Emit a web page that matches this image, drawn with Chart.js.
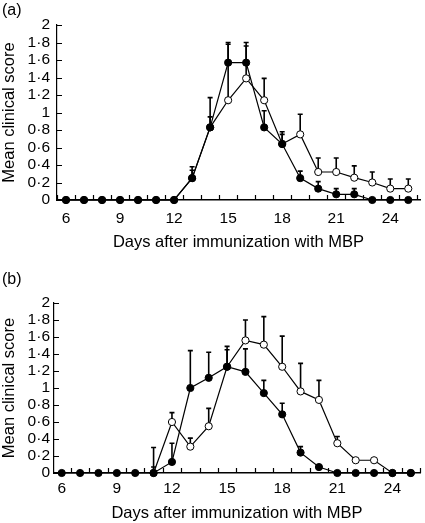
<!DOCTYPE html>
<html lang="en">
<head>
<meta charset="UTF-8">
<title>Mean clinical score after immunization with MBP</title>
<script src="https://cdn.jsdelivr.net/npm/chart.js"></script>
<style>
  body { margin: 0; background: #fff; width: 425px; height: 523px; position: relative; overflow: hidden;
         font-family: 'Liberation Sans', Arial, Helvetica, sans-serif; }
  .panel { position: absolute; left: 0; width: 425px; }
  .tag { position: absolute; left: 2px; font-size: 16px; color: #000; z-index: 2; }
</style>
</head>
<body>
<div class="panel" style="top:0;height:260px"><canvas id="chartA" width="425" height="260"></canvas></div>
<div class="panel" style="top:260px;height:263px"><canvas id="chartB" width="425" height="263"></canvas></div>
<div class="tag" style="top:1px">(a)</div>
<div class="tag" style="top:270px">(b)</div>

<script>
// days 6..25
const days = [6, 7, 8, 9, 10, 11, 12, 13, 14, 15, 16, 17, 18, 19, 20, 21, 22, 23, 24, 25];
const xTickLabels = [6, 9, 12, 15, 18, 21, 24];
const yTickValues = [0, 0.2, 0.4, 0.6, 0.8, 1, 1.2, 1.4, 1.6, 1.8, 2];
const yTickLabels = ['0', '0·2', '0·4', '0·6', '0·8', '1', '1·2', '1·4', '1·6', '1·8', '2'];

// panel (a)
const aFilled   = [0, 0, 0, 0, 0, 0, 0, 0.25, 0.83, 1.57, 1.57, 0.83, 0.64, 0.25, 0.13, 0.065, 0.065, 0, 0, 0];
const aFilledSE = [null, null, null, null, null, null, null, 0.13, 0.12, 0.23, 0.23, 0.19, 0.14, 0.08, 0.08, 0.065, 0.065, null, null, null];
const aOpen     = [0, 0, 0, 0, 0, 0, 0, 0.25, 0.83, 1.14, 1.39, 1.14, 0.64, 0.75, 0.32, 0.32, 0.255, 0.2, 0.13, 0.13];
const aOpenSE   = [null, null, null, null, null, null, null, 0.09, 0.34, 0.64, 0.37, 0.25, 0.11, 0.23, 0.16, 0.16, 0.135, 0.12, 0.11, 0.11];

// panel (b)
const bFilled   = [0, 0, 0, 0, 0, 0, 0.13, 1.0, 1.12, 1.25, 1.19, 0.94, 0.69, 0.24, 0.07, 0, 0, 0, 0, 0];
const bFilledSE = [null, null, null, null, null, 0.07, 0.22, 0.44, 0.30, 0.24, 0.27, 0.15, 0.13, 0.07, null, null, null, null, null, null];
const bOpen     = [null, null, null, null, null, 0, 0.6, 0.31, 0.55, 1.25, 1.56, 1.51, 1.25, 0.96, 0.86, 0.35, 0.15, 0.15, 0, 0];
const bOpenSE   = [null, null, null, null, null, 0.3, 0.11, 0.10, 0.21, 0.20, 0.24, 0.33, 0.36, 0.33, 0.23, 0.08, null, null, null, null];

const tickFont = { family: "'Liberation Sans', Arial, sans-serif", size: 15.5 };
const titleFont = { family: "'Liberation Sans', Arial, sans-serif", size: 16.5 };

// error bars (upward only, with cap) and inward tick marks
const extras = {
  id: 'extras',
  beforeDatasetsDraw(chart) {
    const { ctx, scales: { x, y } } = chart;
    ctx.save();
    ctx.strokeStyle = '#000';
    ctx.lineWidth = 1.6;
    chart.data.datasets.forEach(ds => {
      ds.data.forEach((p, i) => {
        const se = ds.se[i];
        if (se == null || p.y == null) return;
        const px = x.getPixelForValue(p.x);
        const y0 = y.getPixelForValue(p.y);
        const y1 = y.getPixelForValue(p.y + se);
        ctx.beginPath();
        ctx.moveTo(px, y0); ctx.lineTo(px, y1);
        ctx.moveTo(px - 2.5, y1); ctx.lineTo(px + 2.5, y1);
        ctx.stroke();
      });
    });
    ctx.restore();
  },
  afterDraw(chart) {
    const { ctx, chartArea: a, scales: { x, y } } = chart;
    ctx.save();
    ctx.strokeStyle = '#000';
    ctx.lineWidth = 1.2;
    ctx.beginPath();
    for (let v = Math.ceil(x.min - 0.5) + 0.5; v <= x.max; v++) {
      const px = Math.round(x.getPixelForValue(v)) + 0.5;
      ctx.moveTo(px, a.bottom); ctx.lineTo(px, a.bottom - 5);
    }
    yTickValues.forEach(v => {
      const py = Math.round(y.getPixelForValue(v)) + 0.5;
      ctx.moveTo(a.left, py); ctx.lineTo(a.left + 5, py);
    });
    ctx.stroke();
    ctx.restore();
  }
};

function buildChart(id, filled, filledSE, open, openSE, box) {
  const toPts = vals => days.map((d, i) => ({ x: d, y: vals[i] }));
  return new Chart(document.getElementById(id), {
    type: 'line',
    data: {
      datasets: [
        { label: 'filled', data: toPts(filled), se: filledSE, order: 0,
          borderColor: '#000', borderWidth: 1.2, pointRadius: 3.6, pointBorderWidth: 1,
          pointBackgroundColor: '#000', pointBorderColor: '#000', clip: false, spanGaps: false },
        { label: 'open', data: toPts(open), se: openSE, order: 1,
          borderColor: '#000', borderWidth: 1.2, pointRadius: 3.6, pointBorderWidth: 1,
          pointBackgroundColor: '#fff', pointBorderColor: '#000', clip: false, spanGaps: false }
      ]
    },
    options: {
      responsive: false,
      animation: false,
      events: [],
      layout: { padding: { top: box.top, left: 0, right: 0, bottom: 0 } },
      plugins: { legend: { display: false }, tooltip: { enabled: false } },
      scales: {
        x: {
          type: 'linear', min: box.xMin, max: box.xMax,
          afterBuildTicks: s => { s.ticks = days.map(v => ({ value: v })); },
          afterFit: s => { s.height = box.xHeight; },
          grid: { display: false, drawTicks: false },
          border: { display: true, color: '#000', width: 1.5 },
          ticks: { autoSkip: false, maxRotation: 0, padding: box.xPad, color: '#000', font: tickFont,
                   callback: v => xTickLabels.includes(v) ? String(v) : '' },
          title: { display: true, text: 'Days after immunization with MBP', color: '#000', font: titleFont,
                   padding: { top: 0, bottom: box.xTitlePad } }
        },
        y: {
          min: 0, max: 2,
          afterBuildTicks: s => { s.ticks = yTickValues.map(v => ({ value: v })); },
          afterFit: s => { s.width = box.yWidth; },
          grid: { display: false, drawTicks: false },
          border: { display: true, color: '#000', width: 1.2 },
          ticks: { autoSkip: false, padding: box.yPad, color: '#000', font: tickFont,
                   callback: (v, i) => yTickLabels[i] },
          title: { display: true, text: 'Mean clinical score', color: '#000', font: titleFont,
                   padding: { top: 0, bottom: 0 } }
        }
      }
    },
    plugins: [extras]
  });
}

buildChart('chartA', aFilled, aFilledSE, aOpen, aOpenSE,
  { top: 25, xHeight: 60, yWidth: 57, xMin: 5.5, xMax: 25.65, xPad: 9, xTitlePad: 8, yPad: 7 });
buildChart('chartB', bFilled, bFilledSE, bOpen, bOpenSE,
  { top: 43, xHeight: 50, yWidth: 54, xMin: 5.58, xMax: 25.5, xPad: 6, xTitlePad: 0, yPad: 4 });
</script>
</body>
</html>
